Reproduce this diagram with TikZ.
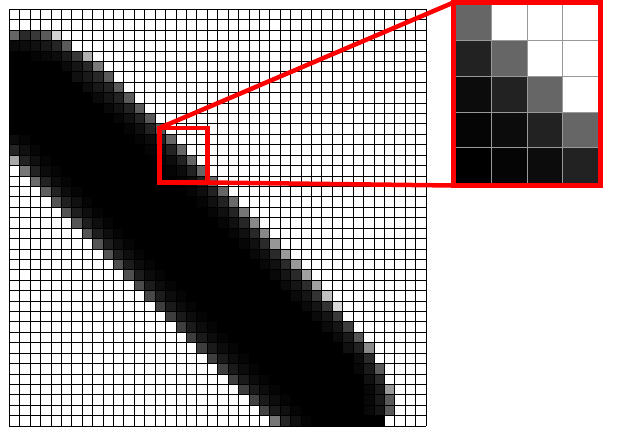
\documentclass[tikz,border=0pt]{standalone}
\tikzset{
  gridline/.style={line width=0.9pt, black},
  insetline/.style={line width=0.4pt, black!40},
  redline/.style={draw=red, line width=4.5pt},
}
\newcommand{\cellv}[3]{\definecolor{cc}{RGB}{#3,#3,#3}\fill[cc] (#1,#2) rectangle ++(1,1);}
\begin{document}
\begin{tikzpicture}[x=1pt,y=-1pt]
\useasboundingbox (0,0) rectangle (624,432);
\fill[white] (0,0) rectangle (624,432);
% ---------------- main pixel grid ----------------
\begin{scope}[shift={(9.3,9.3)},x=10.42pt,y=-10.42pt]
  % dark band
  \fill[black] (0,2) rectangle (5,3);
  \fill[black] (0,3) rectangle (6,4);
  \fill[black] (0,4) rectangle (8,5);
  \foreach \r in {5,...,13} \fill[black] (0,\r) rectangle (\r+4,\r+1);
  \foreach \r in {14,...,28} \fill[black] (\r-14,\r) rectangle (\r+4,\r+1);
  \foreach \r/\a/\b in {29/15/32, 30/16/33, 31/17/34, 32/18/35, 33/19/35, 34/20/36,
                        35/21/36, 36/22/37, 37/23/37, 38/24/37, 39/25/36}
    \fill[black] (\a,\r) rectangle (\b,\r+1);
  % upper-left end
  \foreach \c/\r/\v in {0/2/102, 1/2/42, 2/2/56, 3/2/90, 4/2/208,
                        0/3/10, 1/3/12, 2/3/16, 3/3/24, 4/3/37, 5/3/90,
                        2/4/5, 3/4/8, 4/4/12, 5/4/26, 6/4/56, 7/4/176,
                        5/5/10, 6/5/21, 7/5/40, 8/5/122,
                        0/12/12, 1/12/5, 0/13/37, 1/13/16, 2/13/6}
    {\cellv{\c}{\r}{\v}}
  % upper edge
  \foreach \r/\e/\s/\t/\f in {6/90/40/26/16, 7/90/34/24/12, 8/90/34/21/10, 9/90/34/18/8,
      10/88/34/16/6, 11/90/34/14/5, 12/102/34/12/5, 13/102/34/12/5, 14/102/34/12/5,
      15/102/34/12/5, 16/102/34/12/5, 17/102/34/14/5, 18/106/34/16/5, 19/119/36/16/6,
      20/136/38/16/6, 21/136/40/16/6, 22/150/42/16/6, 23/153/42/16/8, 24/153/42/16/8,
      25/160/42/21/8, 26/160/45/21/10, 27/192/51/21/10, 28/216/51/21/10}
    {\cellv{\r+3}{\r}{\e}\cellv{\r+2}{\r}{\s}\cellv{\r+1}{\r}{\t}\cellv{\r}{\r}{\f}}
  % lower-right end
  \foreach \c/\r/\v in {31/29/58, 30/29/21, 29/29/10,
                        32/30/62, 31/30/21, 30/30/10,
                        33/31/85, 32/31/26, 31/31/10,
                        34/32/138, 33/32/34, 32/32/16,
                        34/33/42, 33/33/12,
                        35/34/90, 34/34/26, 33/34/8,
                        35/35/42, 34/35/16,
                        36/36/153, 35/36/26, 34/36/8,
                        36/37/90, 35/37/26, 34/37/8,
                        36/38/90, 35/38/21, 34/38/8}
    {\cellv{\c}{\r}{\v}}
  % lower edge
  \foreach \r/\e/\s/\t in {14/168/34/16, 15/119/34/12, 16/106/34/12, 17/96/34/12,
      18/85/32/16, 19/85/30/14, 20/85/30/14, 21/85/30/14, 22/85/30/14, 23/85/30/14,
      24/80/28/12, 25/80/28/12, 26/76/28/12, 27/72/28/12, 28/62/26/12, 29/62/26/12,
      30/62/26/12, 31/62/26/12, 32/62/26/12, 33/62/26/12, 34/62/26/12, 35/62/26/12,
      36/62/26/12, 37/66/26/12, 38/68/26/16, 39/119/37/16}
    {\cellv{\r-14}{\r}{\e}\cellv{\r-13}{\r}{\s}\cellv{\r-12}{\r}{\t}\cellv{\r-11}{\r}{5}}
  % grid lines
  \foreach \i in {0,...,40} {
    \draw[gridline] (\i,0) -- (\i,40);
    \draw[gridline] (0,\i) -- (40,\i);
  }
\end{scope}
% ---------------- magnified inset ----------------
\begin{scope}[shift={(456,5)},x=35.5pt,y=-35.6pt]
  \foreach \c/\r/\v in {0/0/102,
                        0/1/34, 1/1/102,
                        0/2/12, 1/2/34, 2/2/102,
                        0/3/5, 1/3/12, 2/3/34, 3/3/102,
                        0/4/0, 1/4/5, 2/4/12, 3/4/34}
    {\cellv{\c}{\r}{\v}}
  \foreach \i in {1,2,3} \draw[insetline] (\i,0) -- (\i,5);
  \foreach \j in {1,...,4} \draw[insetline] (0,\j) -- (4,\j);
\end{scope}
% ---------------- zoom markers ----------------
\node[redline, anchor=north west, outer sep=0pt, inner sep=0pt,
      minimum width=48pt, minimum height=54.5pt] (zoombox) at (159.5,128) {};
\node[redline, line width=5pt, anchor=north west, outer sep=0pt, inner sep=0pt,
      minimum width=147pt, minimum height=183pt] (inset) at (453.5,2.5) {};
\draw[redline] (zoombox.north west) -- (inset.north west);
\draw[redline] (zoombox.south east) -- (inset.south west);
\end{tikzpicture}
\end{document}
